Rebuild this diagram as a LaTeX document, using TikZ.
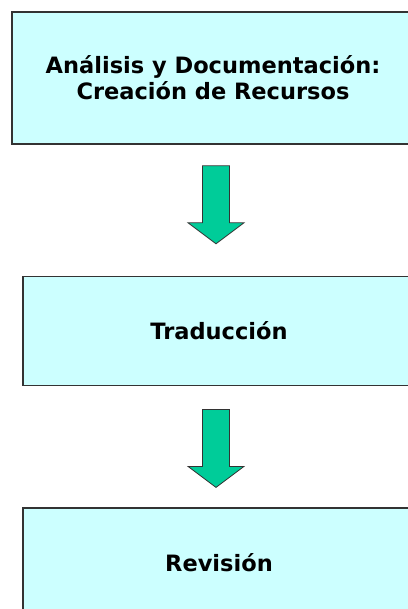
\documentclass[tikz,border=0pt]{standalone}
\usepackage{fontspec}
\setmainfont{DejaVu Sans}
\usetikzlibrary{positioning}
\usetikzlibrary{shapes}
\usetikzlibrary{arrows}

\definecolor{celeste}{HTML}{CCFFFF}
\definecolor{verdeflecha}{HTML}{00CC99}
\definecolor{bordecaja}{HTML}{333333}

% flecha gruesa hacia abajo, desde la coordenada #1
\newcommand{\flechabloque}[1]{\draw[flecha] (#1) ++(-13.5pt,0) -- ++(27pt,0) -- ++(0,-57pt) -- ++(14.5pt,0) -- ++(-28pt,-21pt) -- ++(-28pt,21pt) -- ++(14.5pt,0) -- cycle;}

\begin{document}
\begin{tikzpicture}[align=center,font=\fontsize{22.5}{26}\selectfont\bfseries,
caja/.style={draw=bordecaja,line width=1.6pt,fill=celeste,minimum width=402pt,inner sep=0pt},
flecha/.style={draw=black!80,line width=0.8pt,fill=verdeflecha,line join=miter}
]
\useasboundingbox (0,0) rectangle (407pt,-609pt);
\node[caja,minimum height=132pt] (analisis) at (213pt,-78pt){An\'alisis y Documentaci\'on:\\Creaci\'on de Recursos};
%--
\coordinate[below=21pt of analisis.south,xshift=3pt] (f1);
\flechabloque{f1}
%--
\node[caja,minimum width=392pt,minimum height=109pt,below=131pt of analisis.south,anchor=north,xshift=6pt] (traduccion){Traducci\'on};
%--
\coordinate[below=23pt of traduccion.south,xshift=-3pt] (f2);
\flechabloque{f2}
%--
\node[caja,minimum width=392pt,minimum height=109pt,below=121pt of traduccion.south,anchor=north] (revision){Revisi\'on};
\end{tikzpicture}
\end{document}
